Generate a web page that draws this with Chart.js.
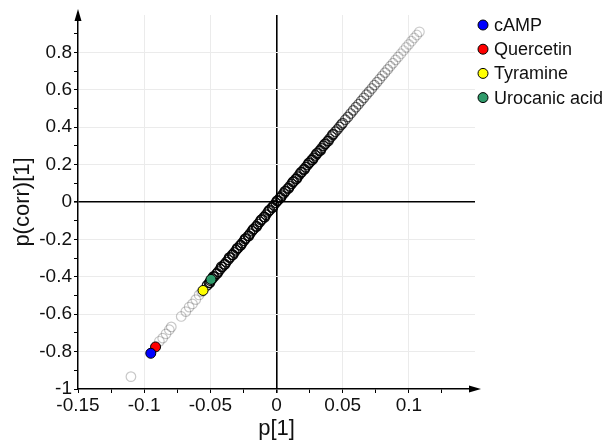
<!DOCTYPE html>
<html>
<head>
<meta charset="utf-8">
<script src="https://cdn.jsdelivr.net/npm/chart.js@4.4.1/dist/chart.umd.min.js"></script>
<style>
  html, body { margin: 0; padding: 0; background: #fff; }
  #wrap { width: 604px; height: 442px; position: relative; }
</style>
</head>
<body>
<div id="wrap"><canvas id="myChart"></canvas></div>
<script>
// grey (all variables)
var greyX = [
  -0.110, -0.0885, -0.086, -0.0835, -0.081, -0.0795,
  -0.072, -0.0685, -0.066, -0.0635, -0.061, -0.0585, -0.0565,
  -0.0525, -0.0510, -0.0498, -0.0485, -0.0470, -0.0455, -0.0440, -0.0425, -0.0410, -0.0395,
  -0.0380, -0.0365, -0.0350, -0.0335, -0.0320, -0.0305, -0.0290, -0.0275, -0.0260, -0.0245,
  -0.0230, -0.0215, -0.0200, -0.0185, -0.0170, -0.0155, -0.0140, -0.0125, -0.0110, -0.0095,
  -0.0080, -0.0065, -0.0050, -0.0035, -0.0020, -0.0005, 0.0010, 0.0025, 0.0040, 0.0055,
  0.0070, 0.0085, 0.0100, 0.0115, 0.0130, 0.0145, 0.0160, 0.0175, 0.0190, 0.0205,
  0.0220, 0.0235, 0.0250, 0.0265, 0.0280, 0.0295, 0.0310, 0.0325, 0.0340, 0.0355,
  0.0370, 0.0385, 0.0400, 0.0415, 0.0430, 0.0445, 0.0460, 0.0475, 0.0490,
  -0.0503, -0.0478, -0.0448, -0.0418, -0.0388, -0.0358, -0.0328, -0.0298, -0.0268, -0.0238,
  -0.0208, -0.0178, -0.0148, -0.0118, -0.0088, -0.0058, -0.0028, 0.0003, 0.0033, 0.0063,
  0.0093, 0.0123, 0.0153, 0.0183, 0.0213, 0.0243, 0.0273, 0.0303, 0.0333, 0.0363,
  0.0393, 0.0423,
  0.050, 0.052, 0.054, 0.056, 0.058, 0.060, 0.062, 0.064, 0.066, 0.068,
  0.070, 0.072, 0.074, 0.076, 0.078, 0.080, 0.082, 0.084, 0.086, 0.088,
  0.090, 0.092, 0.094, 0.096, 0.098, 0.100, 0.102, 0.104, 0.106, 0.108
];
var greyY = [
  -0.934, -0.745, -0.728, -0.705, -0.683, -0.668,
  -0.612, -0.586, -0.562, -0.545, -0.522, -0.497, -0.480,
  -0.446, -0.433, -0.421, -0.410, -0.398, -0.385, -0.372, -0.359, -0.347, -0.334,
  -0.321, -0.309, -0.296, -0.283, -0.270, -0.258, -0.245, -0.232, -0.220, -0.207,
  -0.194, -0.182, -0.169, -0.156, -0.143, -0.131, -0.118, -0.106, -0.093, -0.080,
  -0.068, -0.055, -0.042, -0.030, -0.017, -0.004, 0.008, 0.021, 0.034, 0.046,
  0.059, 0.072, 0.084, 0.097, 0.110, 0.122, 0.135, 0.148, 0.160, 0.173,
  0.186, 0.198, 0.211, 0.224, 0.236, 0.249, 0.262, 0.274, 0.287, 0.300,
  0.312, 0.325, 0.338, 0.350, 0.363, 0.376, 0.388, 0.401, 0.414,
  -0.431, -0.399, -0.382, -0.346, -0.333, -0.297, -0.282, -0.248, -0.231, -0.197,
  -0.181, -0.147, -0.130, -0.096, -0.081, -0.046, -0.029, 0.006, 0.024, 0.057,
  0.074, 0.107, 0.125, 0.158, 0.175, 0.208, 0.226, 0.259, 0.276, 0.309,
  0.327, 0.360,
  0.422, 0.440, 0.455, 0.473, 0.490, 0.507, 0.523, 0.540, 0.557, 0.574,
  0.590, 0.607, 0.625, 0.641, 0.658, 0.675, 0.692, 0.709, 0.726, 0.742,
  0.760, 0.776, 0.793, 0.810, 0.827, 0.843, 0.860, 0.877, 0.893, 0.910
];

// highlighted compounds
var compounds = ['cAMP', 'Quercetin', 'Tyramine', 'Urocanic acid'];
var compX = [-0.095, -0.0914, -0.0555, -0.0495];
var compY = [-0.809, -0.775, -0.473, -0.414];
var compColors = ['#0000ff', '#ff0000', '#ffff00', '#2f9a6a'];

var xTitle = 'p[1]';
var yTitle = 'p(corr)[1]';

var greyPoints = greyX.map(function(x, i) { return { x: x, y: greyY[i] }; });

function greyShade(ctx) {
  var p = ctx.raw;
  if (!p) return 'rgba(0,0,0,0.5)';
  var x = p.x, a;
  if (x < -0.054) a = 0.22;
  else if (x <= 0.03) a = 0.9;
  else a = Math.max(0.2, 0.9 - (x - 0.03) * 11);
  return 'rgba(0,0,0,' + a.toFixed(2) + ')';
}

var datasets = compounds.map(function(name, i) {
  return {
    label: name,
    data: [{ x: compX[i], y: compY[i] }],
    backgroundColor: compColors[i],
    borderColor: '#000',
    borderWidth: 1,
    pointRadius: 5
  };
});
datasets.push({
  label: 'all',
  data: greyPoints,
  backgroundColor: 'rgba(255,255,255,0)',
  borderColor: greyShade,
  borderWidth: 1.2,
  pointRadius: 4.8
});

// arrows on the axes, and the legend drawn at the top right
var extras = {
  id: 'extras',
  afterDraw: function(chart) {
    var c = chart.ctx, a = chart.chartArea;
    c.save();
    c.fillStyle = '#000';
    c.beginPath();
    c.moveTo(a.left, a.top - 6);
    c.lineTo(a.left - 3.5, a.top + 6);
    c.lineTo(a.left + 3.5, a.top + 6);
    c.closePath();
    c.fill();
    c.beginPath();
    c.moveTo(a.right + 6, a.bottom);
    c.lineTo(a.right - 6, a.bottom - 3.5);
    c.lineTo(a.right - 6, a.bottom + 3.5);
    c.closePath();
    c.fill();

    c.font = '18px "Liberation Sans", Arial, sans-serif';
    c.textBaseline = 'middle';
    c.textAlign = 'left';
    compounds.forEach(function(name, i) {
      var y = 25 + i * 24.2;
      c.beginPath();
      c.arc(483, y, 5, 0, Math.PI * 2);
      c.fillStyle = compColors[i];
      c.fill();
      c.lineWidth = 1;
      c.strokeStyle = '#000';
      c.stroke();
      c.fillStyle = '#111';
      c.fillText(name, 494, y + 1);
    });
    c.restore();
  }
};

function near(v, t) { return Math.abs(v - t) < 1e-6; }

var tickFont = { family: '"Liberation Sans", Arial, sans-serif', size: 19 };
var titleFont = { family: '"Liberation Sans", Arial, sans-serif', size: 22 };

const config = {
  type: 'scatter',
  data: { datasets: datasets },
  plugins: [extras],
  options: {
    responsive: true,
    maintainAspectRatio: false,
    animation: false,
    layout: { padding: { top: 15, right: 129, left: 0, bottom: 0 } },
    plugins: { legend: { display: false }, tooltip: { enabled: false } },
    scales: {
      x: {
        type: 'linear',
        min: -0.15, max: 0.15,
        afterFit: function(s) { s.height = 53; },
        border: { color: '#000', width: 1.5 },
        grid: {
          drawTicks: true,
          tickLength: 4,
          tickColor: function(ctx) { return near(ctx.tick.value, 0.15) ? 'rgba(0,0,0,0)' : '#000'; },
          color: function(ctx) {
            var v = ctx.tick.value;
            if (near(v, 0)) return '#000';
            if (near(v, 0.15) || near(v, -0.15)) return 'rgba(0,0,0,0)';
            return near(Math.round(v * 20), v * 20) ? '#ebebeb' : 'rgba(0,0,0,0)';
          },
          lineWidth: function(ctx) { return near(ctx.tick.value, 0) ? 1.6 : 1; }
        },
        ticks: {
          stepSize: 0.025,
          autoSkip: false,
          maxRotation: 0,
          padding: 1,
          color: '#111',
          font: tickFont,
          callback: function(v) {
            if (near(v, 0.15)) return '';
            if (!near(Math.round(v * 20), v * 20)) return '';
            return String(+v.toFixed(3));
          }
        },
        title: { display: true, text: xTitle, color: '#111', font: titleFont, padding: { top: 0, bottom: 0 } }
      },
      y: {
        type: 'linear',
        min: -1, max: 1,
        afterFit: function(s) { s.width = 78; },
        border: { color: '#000', width: 1.5 },
        grid: {
          drawTicks: true,
          tickLength: 4,
          tickColor: function(ctx) { return near(ctx.tick.value, 1) ? 'rgba(0,0,0,0)' : '#000'; },
          color: function(ctx) {
            var v = ctx.tick.value;
            if (near(v, 0)) return '#000';
            if (near(v, 1) || near(v, -1)) return 'rgba(0,0,0,0)';
            return near(Math.round(v * 5), v * 5) ? '#ebebeb' : 'rgba(0,0,0,0)';
          },
          lineWidth: function(ctx) { return near(ctx.tick.value, 0) ? 1.6 : 1; }
        },
        ticks: {
          stepSize: 0.1,
          autoSkip: false,
          padding: 2,
          color: '#111',
          font: tickFont,
          callback: function(v) {
            if (near(v, 1)) return '';
            if (!near(Math.round(v * 5), v * 5)) return '';
            return String(+v.toFixed(2));
          }
        },
        title: { display: true, text: yTitle, color: '#111', font: titleFont, padding: { top: 10, bottom: 0 } }
      }
    }
  }
};

var myChart = new Chart(document.getElementById('myChart'), config);
</script>
</body>
</html>
